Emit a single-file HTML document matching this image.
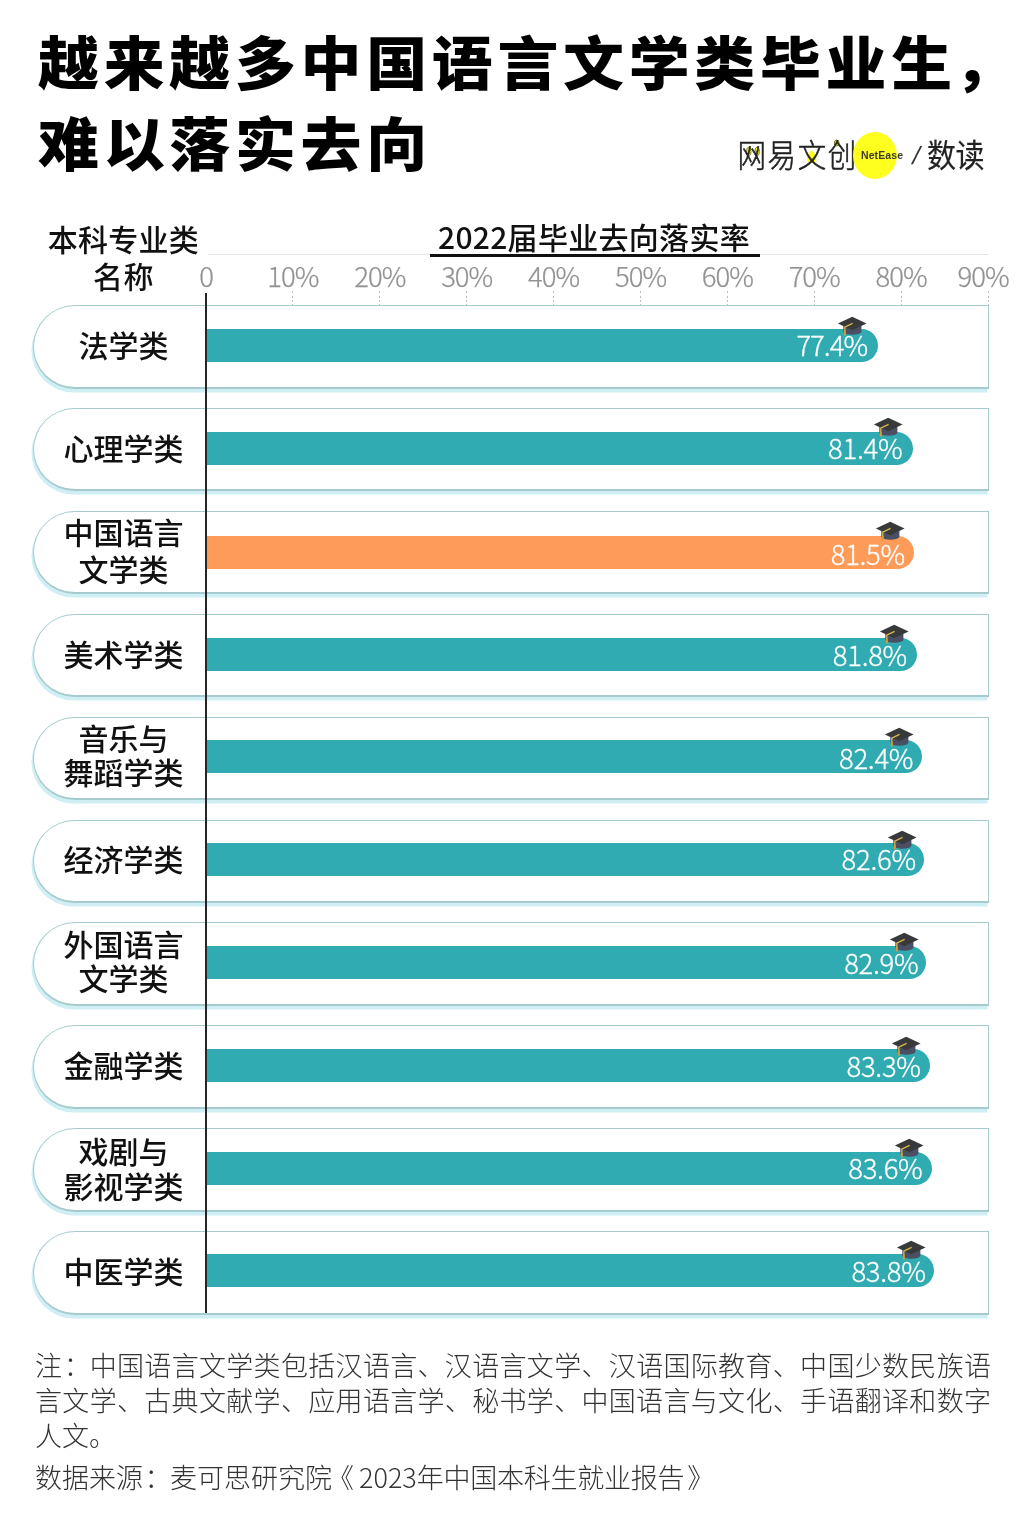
<!DOCTYPE html>
<html lang="zh-CN">
<head>
<meta charset="utf-8">
<title>越来越多中国语言文学类毕业生，难以落实去向</title>
<style>
html,body{margin:0;padding:0;background:#fff;}
body{width:1024px;height:1530px;position:relative;overflow:hidden;
  font-family:"Liberation Sans","Noto Sans CJK SC",sans-serif;color:#000;}
.abs{position:absolute;}
h1{position:absolute;left:38px;top:19.5px;margin:0;font-family:"Noto Sans CJK SC","Liberation Sans",sans-serif;
  font-weight:900;font-size:58px;line-height:81px;letter-spacing:4.5px;white-space:nowrap;color:#000;transform:scaleX(1.05);transform-origin:0 0;}
/* logo */
.logo{position:absolute;left:0;top:0;width:0;height:0;}
.logo span{position:absolute;white-space:nowrap;color:#222;}
.logo .wy{left:737.5px;top:131px;font-family:"Noto Sans CJK SC",sans-serif;font-weight:300;font-size:28.5px;line-height:44px;letter-spacing:1.6px;transform:scaleY(1.13);transform-origin:0 50%;-webkit-text-stroke:.5px #222;}
.logo .dot{left:852.5px;top:131.5px;width:44px;height:47px;border-radius:50%;background:#ffff1f;}
.logo .ne{left:861px;top:144px;font-family:"Liberation Sans",sans-serif;font-weight:700;font-size:10.5px;line-height:22px;letter-spacing:.1px;color:#3b3a2a;}
.logo .sl{left:913px;top:137px;font-family:"Liberation Sans",sans-serif;font-size:25px;line-height:36px;transform:skewX(-13deg);color:#333;}
.logo .sd{left:927px;top:130.5px;font-family:"Noto Sans CJK SC",sans-serif;font-weight:400;-webkit-text-stroke:.2px #222;font-size:29px;line-height:44px;letter-spacing:-.6px;transform:scaleY(1.1);transform-origin:0 50%;}
/* headers */
.hl{position:absolute;left:23.4px;width:200px;text-align:center;letter-spacing:.3px;font-family:"Noto Sans CJK SC",sans-serif;font-weight:500;font-size:30px;line-height:38px;color:#111;}
.ht{position:absolute;left:429px;width:330px;top:217px;letter-spacing:.3px;text-align:center;font-family:"Noto Sans CJK SC",sans-serif;font-weight:500;font-size:30px;line-height:38px;color:#111;white-space:nowrap;}
.hu{position:absolute;left:430px;width:330px;top:253.5px;height:3px;background:#111;}
.topline{position:absolute;left:208px;width:780px;top:254px;height:1px;background:#e3e6e6;}
.tick{position:absolute;top:262.6px;width:80px;margin-left:-40px;text-align:center;font-family:"Noto Sans CJK SC","Liberation Sans",sans-serif;font-weight:300;font-size:27.5px;line-height:24px;color:#929292;letter-spacing:-1px;-webkit-text-stroke:.25px #929292;}
.tk{position:absolute;top:291px;height:14px;width:1px;background:repeating-linear-gradient(180deg,#bdbdbd 0,#bdbdbd 2px,transparent 2px,transparent 4.5px);}
.axis{position:absolute;left:205.4px;top:293px;width:1.8px;height:1020px;background:#262626;}
/* rows */
.row{position:absolute;left:33px;width:954.1px;height:80.55px;border:1.4px solid #a6cbce;border-top-width:1.2px;border-bottom-width:2px;border-radius:42px 0 0 42px;background:#fff;box-sizing:content-box;
  box-shadow:-1.5px 3.4px 0 0 #cfeff4;}
.row .lb{position:absolute;left:-10.4px;width:200px;top:-1.9px;height:80.75px;display:flex;align-items:center;justify-content:center;text-align:center;
  font-family:"Noto Sans CJK SC",sans-serif;font-weight:500;font-size:30px;line-height:37px;color:#111;}
.bar{position:absolute;left:171.6px;top:23.2px;height:33px;border-radius:0 16.5px 16.5px 0;background:#2fabb1;}
.bar.o{background:#ff9b59;}
.bar span{position:absolute;right:11.5px;top:-1.6px;line-height:33px;font-family:"Noto Sans CJK SC","Liberation Sans",sans-serif;font-weight:300;font-size:27.5px;color:#fff;letter-spacing:-.3px;white-space:nowrap;-webkit-text-stroke:.3px #fff;}
.bar svg{position:absolute;right:10.4px;top:-15px;width:30px;height:21px;}
/* footer */
.note{position:absolute;left:35px;top:1346.5px;width:956px;font-family:"Noto Sans CJK SC",sans-serif;font-weight:300;font-size:27px;line-height:35.3px;color:#333;}
.note p{margin:0;text-align:justify;text-justify:inter-character;}
.note p+p{margin-top:7px;white-space:nowrap;text-align:left;}
.note .bl{position:relative;left:-5px;}
.note .br{position:relative;left:3px;}
.note .cl{position:relative;left:1.5px;}
.note .tl{letter-spacing:-.25px;}
</style>
</head>
<body>
<h1>越来越多中国语言文学类毕业生<span style="position:relative;left:-2.8px;top:-1px">，</span><br>难以落实去向</h1>


<div class="logo"><svg class="acc" width="130" height="50" viewBox="0 0 130 50" style="position:absolute;left:732px;top:130px;mix-blend-mode:multiply"><g fill="#ffff1f" stroke="#55541a" stroke-width="0.8"><ellipse cx="16.8" cy="21.4" rx="2.1" ry="4.3"/><ellipse cx="25.2" cy="21.4" rx="2.1" ry="4.3"/><ellipse cx="104.7" cy="13" rx="2.4" ry="2.9"/></g><path d="M79.6 20.6 C84.2 23.6 85.6 28.2 83.2 31.6 C81.6 33.8 77.6 33.8 76 31.6 C73.6 28.2 75 23.6 79.6 20.6 Z" fill="#ffff1f"/></svg><span class="wy">网易文创</span><span class="dot"></span><span class="ne">NetEase</span><span class="sl">/</span><span class="sd">数读</span></div>
<div class="hl" style="top:219px">本科专业类</div>
<div class="hl" style="top:256px">名称</div>
<div class="topline"></div>
<div class="ht">2022届毕业去向落实率</div>
<div class="hu"></div>
<div class="tick" style="left:206.0px">0</div>
<div class="tick" style="left:292.9px">10%</div>
<div class="tk" style="left:292.4px"></div>
<div class="tick" style="left:379.8px">20%</div>
<div class="tk" style="left:379.3px"></div>
<div class="tick" style="left:466.7px">30%</div>
<div class="tk" style="left:466.2px"></div>
<div class="tick" style="left:553.6px">40%</div>
<div class="tk" style="left:553.1px"></div>
<div class="tick" style="left:640.5px">50%</div>
<div class="tk" style="left:640.0px"></div>
<div class="tick" style="left:727.3px">60%</div>
<div class="tk" style="left:726.8px"></div>
<div class="tick" style="left:814.2px">70%</div>
<div class="tk" style="left:813.7px"></div>
<div class="tick" style="left:901.1px">80%</div>
<div class="tk" style="left:900.6px"></div>
<div class="tick" style="left:983.0px">90%</div>
<div class="tk" style="left:987.5px"></div>

<div class="row" style="top:305.0px"><div class="lb">法学类</div><div class="bar" style="top:23.4px;width:672.8px"><svg viewBox="0 0 30 20" preserveAspectRatio="none" style="right:11.4px;top:-13.9px"><path d="M6.3 9.5V14.6Q6.3 16.4 9.5 17.2Q15.3 18.6 21.2 17.2Q24.4 16.4 24.4 14.6V9.5Z" fill="#4a4f64"/><path d="M15.2 .7L29.6 7.1L15.2 13.6L.9 7.1Z" fill="#38393b"/><path d="M15.6 7L7.8 10.6V17" fill="none" stroke="#d8b84c" stroke-width="1.3" stroke-linejoin="round"/><path d="M7.8 14V18.6" fill="none" stroke="#d99a34" stroke-width="1.9"/></svg><span style="right:11.3px;top:-1.9px;letter-spacing:-1px">77.4%</span></div></div>
<div class="row" style="top:407.9px"><div class="lb">心理学类</div><div class="bar" style="top:23.2px;width:707.6px"><svg viewBox="0 0 30 20" preserveAspectRatio="none" style="right:10.2px;top:-15.0px"><path d="M6.3 9.5V14.6Q6.3 16.4 9.5 17.2Q15.3 18.6 21.2 17.2Q24.4 16.4 24.4 14.6V9.5Z" fill="#4a4f64"/><path d="M15.2 .7L29.6 7.1L15.2 13.6L.9 7.1Z" fill="#38393b"/><path d="M15.6 7L7.8 10.6V17" fill="none" stroke="#d8b84c" stroke-width="1.3" stroke-linejoin="round"/><path d="M7.8 14V18.6" fill="none" stroke="#d99a34" stroke-width="1.9"/></svg><span style="right:10.9px;top:-0.6px">81.4%</span></div></div>
<div class="row" style="top:510.8px"><div class="lb">中国语言<br>文学类</div><div class="bar o" style="top:24.1px;width:708.5px"><svg viewBox="0 0 30 20" preserveAspectRatio="none" style="right:8.9px;top:-14.8px"><path d="M6.3 9.5V14.6Q6.3 16.4 9.5 17.2Q15.3 18.6 21.2 17.2Q24.4 16.4 24.4 14.6V9.5Z" fill="#4a4f64"/><path d="M15.2 .7L29.6 7.1L15.2 13.6L.9 7.1Z" fill="#38393b"/><path d="M15.6 7L7.8 10.6V17" fill="none" stroke="#d8b84c" stroke-width="1.3" stroke-linejoin="round"/><path d="M7.8 14V18.6" fill="none" stroke="#d99a34" stroke-width="1.9"/></svg><span style="right:9.2px;top:1.0px">81.5%</span></div></div>
<div class="row" style="top:613.7px"><div class="lb">美术学类</div><div class="bar" style="top:23.2px;width:711.1px"><svg viewBox="0 0 30 20" preserveAspectRatio="none" style="right:7.9px;top:-13.9px"><path d="M6.3 9.5V14.6Q6.3 16.4 9.5 17.2Q15.3 18.6 21.2 17.2Q24.4 16.4 24.4 14.6V9.5Z" fill="#4a4f64"/><path d="M15.2 .7L29.6 7.1L15.2 13.6L.9 7.1Z" fill="#38393b"/><path d="M15.6 7L7.8 10.6V17" fill="none" stroke="#d8b84c" stroke-width="1.3" stroke-linejoin="round"/><path d="M7.8 14V18.6" fill="none" stroke="#d99a34" stroke-width="1.9"/></svg><span style="right:9.7px;top:0.2px">81.8%</span></div></div>
<div class="row" style="top:716.6px"><div class="lb" style="line-height:34.3px;top:-4.1px">音乐与<br>舞蹈学类</div><div class="bar" style="top:22.9px;width:716.4px"><svg viewBox="0 0 30 20" preserveAspectRatio="none" style="right:7.5px;top:-13.5px"><path d="M6.3 9.5V14.6Q6.3 16.4 9.5 17.2Q15.3 18.6 21.2 17.2Q24.4 16.4 24.4 14.6V9.5Z" fill="#4a4f64"/><path d="M15.2 .7L29.6 7.1L15.2 13.6L.9 7.1Z" fill="#38393b"/><path d="M15.6 7L7.8 10.6V17" fill="none" stroke="#d8b84c" stroke-width="1.3" stroke-linejoin="round"/><path d="M7.8 14V18.6" fill="none" stroke="#d99a34" stroke-width="1.9"/></svg><span style="right:8.8px;top:0.3px">82.4%</span></div></div>
<div class="row" style="top:819.5px"><div class="lb">经济学类</div><div class="bar" style="top:22.7px;width:718.1px"><svg viewBox="0 0 30 20" preserveAspectRatio="none" style="right:7.1px;top:-13.6px"><path d="M6.3 9.5V14.6Q6.3 16.4 9.5 17.2Q15.3 18.6 21.2 17.2Q24.4 16.4 24.4 14.6V9.5Z" fill="#4a4f64"/><path d="M15.2 .7L29.6 7.1L15.2 13.6L.9 7.1Z" fill="#38393b"/><path d="M15.6 7L7.8 10.6V17" fill="none" stroke="#d8b84c" stroke-width="1.3" stroke-linejoin="round"/><path d="M7.8 14V18.6" fill="none" stroke="#d99a34" stroke-width="1.9"/></svg><span style="right:7.9px;top:-0.8px">82.6%</span></div></div>
<div class="row" style="top:922.4px"><div class="lb" style="line-height:34.5px;top:-3.3px">外国语言<br>文学类</div><div class="bar" style="top:22.6px;width:720.8px"><svg viewBox="0 0 30 20" preserveAspectRatio="none" style="right:7.5px;top:-13.7px"><path d="M6.3 9.5V14.6Q6.3 16.4 9.5 17.2Q15.3 18.6 21.2 17.2Q24.4 16.4 24.4 14.6V9.5Z" fill="#4a4f64"/><path d="M15.2 .7L29.6 7.1L15.2 13.6L.9 7.1Z" fill="#38393b"/><path d="M15.6 7L7.8 10.6V17" fill="none" stroke="#d8b84c" stroke-width="1.3" stroke-linejoin="round"/><path d="M7.8 14V18.6" fill="none" stroke="#d99a34" stroke-width="1.9"/></svg><span style="right:8.0px;top:0.3px">82.9%</span></div></div>
<div class="row" style="top:1025.3px"><div class="lb">金融学类</div><div class="bar" style="top:22.4px;width:724.3px"><svg viewBox="0 0 30 20" preserveAspectRatio="none" style="right:8.8px;top:-12.7px"><path d="M6.3 9.5V14.6Q6.3 16.4 9.5 17.2Q15.3 18.6 21.2 17.2Q24.4 16.4 24.4 14.6V9.5Z" fill="#4a4f64"/><path d="M15.2 .7L29.6 7.1L15.2 13.6L.9 7.1Z" fill="#38393b"/><path d="M15.6 7L7.8 10.6V17" fill="none" stroke="#d8b84c" stroke-width="1.3" stroke-linejoin="round"/><path d="M7.8 14V18.6" fill="none" stroke="#d99a34" stroke-width="1.9"/></svg><span style="right:9.2px;top:0.6px">83.3%</span></div></div>
<div class="row" style="top:1128.2px"><div class="lb" style="line-height:34.8px;top:-1.7px">戏剧与<br>影视学类</div><div class="bar" style="top:22.5px;width:726.9px"><svg viewBox="0 0 30 20" preserveAspectRatio="none" style="right:8.0px;top:-13.6px"><path d="M6.3 9.5V14.6Q6.3 16.4 9.5 17.2Q15.3 18.6 21.2 17.2Q24.4 16.4 24.4 14.6V9.5Z" fill="#4a4f64"/><path d="M15.2 .7L29.6 7.1L15.2 13.6L.9 7.1Z" fill="#38393b"/><path d="M15.6 7L7.8 10.6V17" fill="none" stroke="#d8b84c" stroke-width="1.3" stroke-linejoin="round"/><path d="M7.8 14V18.6" fill="none" stroke="#d99a34" stroke-width="1.9"/></svg><span style="right:10.0px;top:-0.7px">83.6%</span></div></div>
<div class="row" style="top:1231.1px"><div class="lb">中医学类</div><div class="bar" style="top:22.2px;width:728.7px"><svg viewBox="0 0 30 20" preserveAspectRatio="none" style="right:7.9px;top:-13.9px"><path d="M6.3 9.5V14.6Q6.3 16.4 9.5 17.2Q15.3 18.6 21.2 17.2Q24.4 16.4 24.4 14.6V9.5Z" fill="#4a4f64"/><path d="M15.2 .7L29.6 7.1L15.2 13.6L.9 7.1Z" fill="#38393b"/><path d="M15.6 7L7.8 10.6V17" fill="none" stroke="#d8b84c" stroke-width="1.3" stroke-linejoin="round"/><path d="M7.8 14V18.6" fill="none" stroke="#d99a34" stroke-width="1.9"/></svg><span style="right:8.7px;top:-0.3px">83.8%</span></div></div>
<div class="axis"></div>
<div class="note"><p>注<span class="cl">：</span>中国语言文学类包括汉语言、汉语言文学、汉语国际教育、中国少数民族语言文学、古典文献学、应用语言学、秘书学、中国语言与文化、手语翻译和数字人文。</p><p>数据来源<span class="cl">：</span>麦可思研究院<span class="bl">《</span>2023<span class="tl">年中国本科生就业报告</span><span class="br">》</span></p></div>
</body>
</html>
